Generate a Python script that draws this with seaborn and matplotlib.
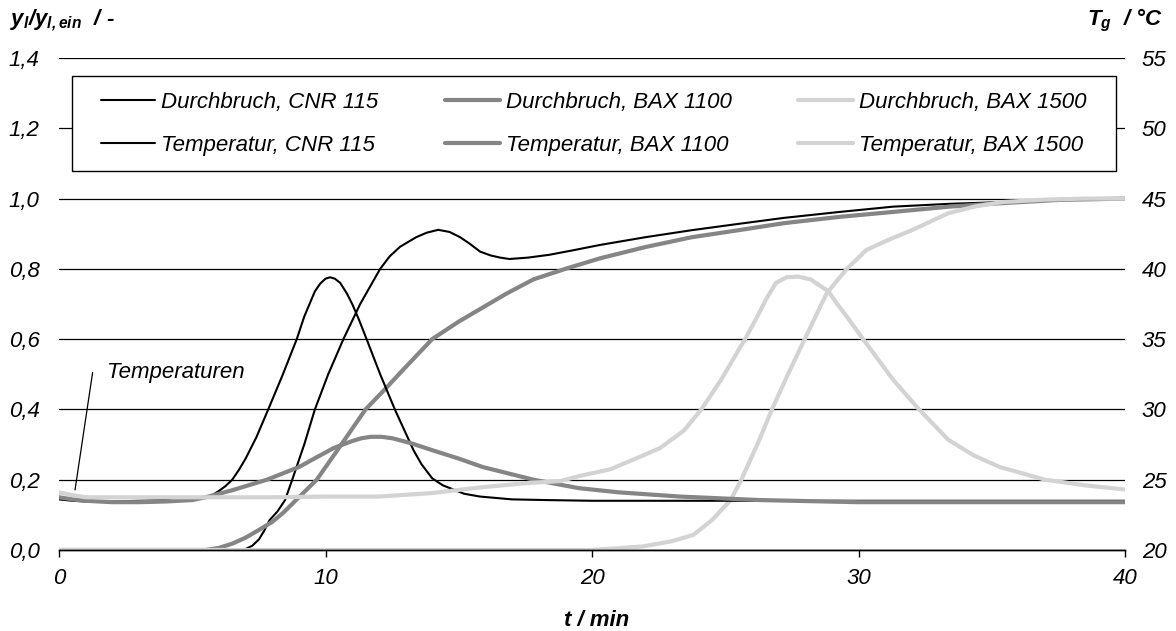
import matplotlib
matplotlib.use('Agg')
import matplotlib.pyplot as plt
import seaborn as sns
from matplotlib.patches import Rectangle

# Durchbruch (left axis, y_l / y_l,ein)
t_d_cnr = [0, 6.5, 7.0, 7.25, 7.5, 7.7, 7.9, 8.2, 8.48, 8.75, 9.2, 9.6, 10.1, 10.67, 11.3, 12.05,
           12.4, 12.8, 13.4, 13.8, 14.23, 14.65, 15.05, 15.4, 15.8, 16.2, 16.55, 16.9, 17.6, 18.4,
           19.3, 20.3, 22.0, 23.74, 25.5, 27.2, 29.3, 31.3, 33.4, 35.4, 36.5, 38.0, 40.0]
v_d_cnr = [0, 0, 0.003, 0.012, 0.03, 0.055, 0.085, 0.11, 0.142, 0.2, 0.3, 0.4, 0.5, 0.6, 0.7, 0.8,
           0.835, 0.863, 0.89, 0.903, 0.911, 0.905, 0.89, 0.872, 0.849, 0.838, 0.832, 0.828, 0.832,
           0.84, 0.853, 0.868, 0.89, 0.91, 0.928, 0.945, 0.962, 0.977, 0.985, 0.99, 0.995, 1.0, 1.0]

t_d_1100 = [0, 5.5, 6.0, 6.5, 7.0, 7.5, 8.0, 8.4, 9.0, 9.67, 10.5, 11.5, 12.2, 13.0, 14.0, 15.0,
            15.9, 16.8, 17.8, 19.0, 20.3, 22.0, 23.74, 25.5, 27.2, 29.3, 31.3, 33.4, 35.4, 37.5, 40.0]
v_d_1100 = [0, 0, 0.006, 0.018, 0.035, 0.057, 0.08, 0.105, 0.15, 0.2, 0.29, 0.4, 0.455, 0.52,
            0.6, 0.65, 0.69, 0.73, 0.77, 0.80, 0.83, 0.862, 0.89, 0.91, 0.93, 0.948, 0.962, 0.977,
            0.987, 0.996, 1.0]

t_d_1500 = [0, 20.0, 21.9, 23.0, 23.8, 24.5, 25.2, 25.6, 26.2, 26.75, 27.35, 27.98, 28.8, 29.56,
            30.3, 31.2, 32.0, 33.36, 34.4, 35.4, 37.0, 38.5, 40.0]
v_d_1500 = [0, 0, 0.01, 0.025, 0.043, 0.085, 0.142, 0.2, 0.3, 0.4, 0.5, 0.6, 0.73, 0.8, 0.854,
            0.885, 0.91, 0.958, 0.978, 0.99, 0.997, 1.0, 1.0]

# Temperatur (right axis, degC)
t_t_cnr = [0, 0.5, 1, 2, 3, 4, 5, 5.5, 5.75, 6.0, 6.25, 6.5, 6.75, 7.0, 7.4, 7.85, 8.4, 8.92,
           9.2, 9.4, 9.6, 9.8, 10.0, 10.17, 10.35, 10.55, 10.8, 11.0, 11.25, 11.54, 12.05, 12.6,
           13.3, 13.6, 14.0, 14.4, 14.8, 15.2, 15.8, 17.0, 18.3, 20, 25, 30, 35, 40]
T_t_cnr = [23.6, 23.5, 23.45, 23.45, 23.5, 23.55, 23.6, 23.75, 23.9, 24.2, 24.55, 25.0, 25.7,
           26.5, 28.0, 30.0, 32.5, 35.0, 36.6, 37.5, 38.4, 38.95, 39.3, 39.4, 39.3, 39.0, 38.25,
           37.5, 36.4, 35.0, 32.5, 30.0, 27.1, 26.1, 25.1, 24.6, 24.3, 24.0, 23.8, 23.6, 23.55,
           23.5, 23.5, 23.5, 23.5, 23.5]

t_t_1100 = [0, 0.5, 1, 2, 3, 4, 5, 5.5, 6.5, 7.8, 9.0, 10.3, 11.0, 11.35, 11.7, 12.1, 12.5, 13.2,
            14.0, 15.0, 15.9, 17.8, 19.5, 21.0, 23.3, 26.3, 30, 35, 40]
T_t_1100 = [23.75, 23.6, 23.5, 23.4, 23.4, 23.45, 23.55, 23.75, 24.25, 25.0, 25.9, 27.25, 27.75,
            27.95, 28.05, 28.05, 27.95, 27.6, 27.1, 26.5, 25.9, 25.0, 24.4, 24.1, 23.8, 23.55,
            23.4, 23.4, 23.4]

t_t_1500 = [0, 0.5, 1, 2, 4, 6, 8, 10, 12, 14, 15.8, 17.5, 18.8, 19.5, 20.7, 21.7, 22.55, 23.45,
            24.1, 24.84, 25.74, 26.2, 26.55, 26.9, 27.3, 27.73, 28.2, 28.87, 29.2, 29.56, 30.17,
            31.3, 32.27, 33.36, 34.3, 35.3, 37.0, 38.5, 40]
T_t_1500 = [24.1, 23.9, 23.75, 23.75, 23.75, 23.75, 23.75, 23.8, 23.8, 24.05, 24.45, 24.75, 24.9,
            25.25, 25.75, 26.55, 27.25, 28.5, 30.0, 32.1, 35.0, 36.6, 37.9, 39.0, 39.4, 39.45,
            39.25, 38.4, 37.5, 36.6, 35.0, 32.1, 30.0, 27.85, 26.75, 25.9, 25.0, 24.6, 24.3]

x_ticks = [0, 10, 20, 30, 40]
y_ticks = [0.0, 0.2, 0.4, 0.6, 0.8, 1.0, 1.2, 1.4]
y_labels = ['0,0', '0,2', '0,4', '0,6', '0,8', '1,0', '1,2', '1,4']
T_ticks = [20, 25, 30, 35, 40, 45, 50, 55]

black = 'black'
grey = '#858585'
light = '#d3d3d3'

sns.set_style('white')
plt.rcParams['font.family'] = ['Liberation Sans', 'DejaVu Sans']
plt.rcParams['font.style'] = 'italic'
plt.rcParams['text.color'] = 'black'
plt.rcParams['xtick.color'] = 'black'
plt.rcParams['ytick.color'] = 'black'
plt.rcParams['mathtext.fontset'] = 'custom'
plt.rcParams['mathtext.it'] = 'Liberation Sans:italic:bold'
plt.rcParams['mathtext.rm'] = 'Liberation Sans:italic:bold'
plt.rcParams['mathtext.bf'] = 'Liberation Sans:italic:bold'

fig = plt.figure(figsize=(11.76, 6.31), dpi=100)
ax = fig.add_axes([0.0502, 0.1284, 0.9065, 0.7797])
ax2 = ax.twinx()

sns.lineplot(x=t_d_cnr, y=v_d_cnr, ax=ax, color=black, linewidth=1.5, label='Durchbruch, CNR 115')
sns.lineplot(x=t_d_1100, y=v_d_1100, ax=ax, color=grey, linewidth=3, label='Durchbruch, BAX 1100')
sns.lineplot(x=t_d_1500, y=v_d_1500, ax=ax, color=light, linewidth=3, label='Durchbruch, BAX 1500')

sns.lineplot(x=t_t_cnr, y=T_t_cnr, ax=ax2, color=black, linewidth=1.5, label='Temperatur, CNR 115')
sns.lineplot(x=t_t_1100, y=T_t_1100, ax=ax2, color=grey, linewidth=3, label='Temperatur, BAX 1100')
sns.lineplot(x=t_t_1500, y=T_t_1500, ax=ax2, color=light, linewidth=3, label='Temperatur, BAX 1500')

h1, l1 = ax.get_legend_handles_labels()
h2, l2 = ax2.get_legend_handles_labels()
for a in (ax, ax2):
    if a.get_legend() is not None:
        a.get_legend().remove()

ax.set_xlim(0, 40)
ax.set_ylim(0, 1.4)
ax2.set_ylim(20, 55)
ax.set_xticks(x_ticks)
ax.set_xticklabels([str(v) for v in x_ticks])
ax.set_yticks(y_ticks)
ax.set_yticklabels(y_labels)
ax2.set_yticks(T_ticks)
ax2.set_yticklabels([str(v) for v in T_ticks])
ax.set_xlabel('')
ax.set_ylabel('')
ax2.set_ylabel('')

ax.grid(axis='y', color='black', linewidth=0.9)
ax.grid(axis='x', visible=False)
ax.set_axisbelow(True)
for a in (ax, ax2):
    for s in ('left', 'right', 'top'):
        a.spines[s].set_visible(False)
    a.spines['bottom'].set_color('black')
    a.spines['bottom'].set_linewidth(1)

ax.tick_params(axis='x', direction='out', length=5, width=1, pad=8, labelsize=16, bottom=True)
ax.tick_params(axis='y', length=0, pad=14, labelsize=16)
ax2.tick_params(axis='y', length=0, pad=12, labelsize=16)

# legend box
ax2.add_patch(Rectangle((0.0122, 0.770), 0.9794, 0.193, transform=ax2.transAxes,
                        facecolor='white', edgecolor='black', linewidth=1, zorder=3))
handles = [h1[0], h2[0], h1[1], h2[1], h1[2], h2[2]]
labels = [l1[0], l2[0], l1[1], l2[1], l1[2], l2[2]]
leg = ax2.legend(handles, labels, ncol=3, mode='expand', loc='center',
                 bbox_to_anchor=(0.0394, 0.770, 0.924, 0.193), frameon=False,
                 borderpad=0, borderaxespad=0, handlelength=2.45, handletextpad=0.27,
                 labelspacing=1.0, fontsize=16)
leg.set_zorder(6)

# annotation
ax.annotate('', xy=(0.6, 0.171), xytext=(1.26, 0.505),
            arrowprops=dict(arrowstyle='-', color='black', lw=0.9, shrinkA=0, shrinkB=0))
ax.text(1.8, 0.505, 'Temperaturen', fontsize=16, va='center', ha='left')

# axis titles
fig.text(0.0085, 0.968, r'$y_{l}/y_{l,ein}$  / -', fontsize=16, fontweight='bold',
         ha='left', va='center')
fig.text(0.989, 0.968, r'$T_{g}$  / °C', fontsize=16, fontweight='bold', ha='right', va='center')
fig.text(0.507, 0.0174, 't / min', fontsize=16, fontweight='bold', ha='center', va='center')

fig.savefig('out.png', dpi=100)
